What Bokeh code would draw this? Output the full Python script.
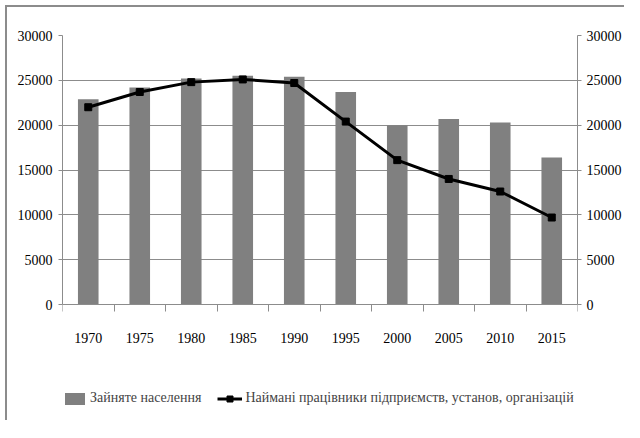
from bokeh.plotting import figure
from bokeh.models import (Range1d, LinearAxis, FixedTicker, Legend, LegendItem,
                          ColumnDataSource, Grid)
from bokeh.embed import file_html
from bokeh.resources import INLINE

years = ["1970", "1975", "1980", "1985", "1990", "1995", "2000", "2005", "2010", "2015"]
employed = [22900, 24200, 25200, 25500, 25400, 23700, 20000, 20700, 20300, 16400]
hired = [22000, 23700, 24800, 25100, 24700, 20400, 16100, 14000, 12600, 9700]
y_ticks = [0, 5000, 10000, 15000, 20000, 25000, 30000]
bar_label = "Зайняте населення"
line_label = "Наймані працівники підприємств, установ, організацій"

FONT = "Liberation Serif"
GRAY = "#8c8c8c"
Y_MAX = 30000

# layout (pixels): plot area 269 px tall for 0..30000, 106 px extra below for axis labels + legend
PLOT_PX = 269
BELOW_PX = 106
y_start = -Y_MAX * BELOW_PX / PLOT_PX

xs = list(range(len(years)))
src = ColumnDataSource(dict(x=xs, year=years, employed=employed, hired=hired))

p = figure(width=624, height=420, output_backend="svg", toolbar_location=None,
           x_range=Range1d(-0.5, len(years) - 0.5), y_range=Range1d(y_start, Y_MAX),
           x_axis_type=None, y_axis_type=None,
           min_border_left=62, min_border_top=35, min_border_right=40, min_border_bottom=10)
p.outline_line_color = None
p.border_fill_alpha = 0
# outer chart border (top and left edges only, as in the source image)
p.styles = {"box-shadow": "inset 5px 5px 0 0 white, inset 7px 7px 0 0 #8c8c8c"}

bars = p.vbar(x="x", top="employed", width=0.4, source=src, fill_color="#808080",
              line_color=None)
ln = p.line(x="x", y="hired", source=src, line_color="black", line_width=3)
mk = p.scatter(x="x", y="hired", source=src, marker="square", size=7,
               fill_color="black", line_color="black")

def style_axis(ax):
    ax.axis_line_color = GRAY
    ax.major_tick_line_color = GRAY
    ax.minor_tick_line_color = None
    ax.major_label_text_font = FONT
    ax.major_label_text_font_size = "14px"
    ax.major_label_text_color = "black"

left = LinearAxis(ticker=FixedTicker(ticks=y_ticks), bounds=(0, Y_MAX))
style_axis(left)
left.major_tick_out = 4
left.major_tick_in = 0
left.major_label_standoff = 6
p.add_layout(left, "left")

right = LinearAxis(ticker=FixedTicker(ticks=y_ticks), bounds=(0, Y_MAX))
style_axis(right)
right.major_tick_out = 4
right.major_tick_in = 0
right.major_label_standoff = 5
p.add_layout(right, "right")

# category axis drawn at y = 0: labels at centres, tick marks between categories
xl = LinearAxis(ticker=FixedTicker(ticks=xs,
                                   minor_ticks=[i - 0.5 for i in range(len(years) + 1)]),
                fixed_location=0)
style_axis(xl)
xl.major_tick_line_color = None
xl.minor_tick_line_color = GRAY
xl.minor_tick_out = 7
xl.minor_tick_in = 0
xl.major_tick_out = 0
xl.major_tick_in = 0
xl.major_label_overrides = {i: y for i, y in enumerate(years)}
xl.major_label_standoff = 21
p.add_layout(xl, "below")

p.ygrid.grid_line_color = None
p.xgrid.grid_line_color = None
p.add_layout(Grid(dimension=1, ticker=FixedTicker(ticks=y_ticks), grid_line_color=GRAY))

legend = Legend(items=[LegendItem(label=bar_label, renderers=[bars]),
                       LegendItem(label=line_label, renderers=[ln, mk])],
                orientation="horizontal", location=(0, 4))
legend.label_text_font = FONT
legend.label_text_font_size = "14px"
legend.border_line_color = None
legend.background_fill_alpha = 0
legend.padding = 0
legend.margin = 0
legend.spacing = 16
legend.glyph_width = 25
legend.glyph_height = 15
legend.label_standoff = 3
p.add_layout(legend, "center")

open("out.html", "w").write(file_html(p, INLINE))
